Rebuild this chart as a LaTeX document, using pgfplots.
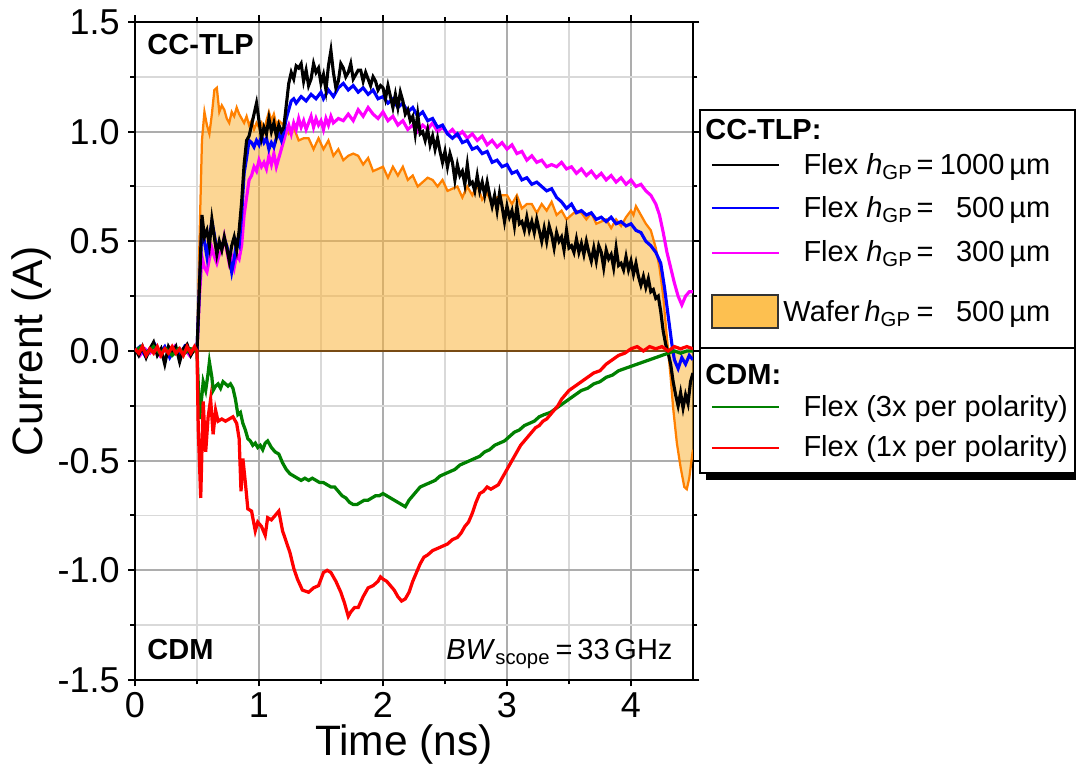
\documentclass[border=0pt]{standalone}
\usepackage{fontspec}
\setmainfont{Liberation Sans}
\usepackage{pgfplots}
\usepackage{pgfplotstable}
\pgfplotsset{compat=1.18}

\definecolor{waferfill}{RGB}{250,180,60}
\definecolor{waferline}{RGB}{255,128,0}
\definecolor{waferbase}{RGB}{120,75,20}
\definecolor{legfill}{RGB}{253,192,80}
\definecolor{cdmgreen}{RGB}{0,128,0}
\definecolor{cdmred}{RGB}{255,0,0}
\definecolor{flexblue}{RGB}{0,0,255}
\definecolor{flexmag}{RGB}{255,0,255}

\newcommand{\legfont}{\fontsize{11.6}{13}\selectfont}

% CC-TLP, wafer h_GP = 500 um
\pgfplotstableread{
x y
0 0.00
0.05 0.02
0.10 -0.01
0.15 0.01
0.20 -0.02
0.25 0.01
0.30 0.02
0.35 -0.01
0.40 0.01
0.45 -0.01
0.50 0.00
0.52 0.50
0.54 0.96
0.56 1.09
0.58 1.03
0.60 0.99
0.62 1.08
0.64 1.19
0.66 1.20
0.68 1.09
0.70 1.12
0.72 1.10
0.74 1.06
0.76 1.04
0.78 1.09
0.80 1.07
0.82 1.11
0.84 1.08
0.86 1.06
0.88 1.04
0.90 1.07
0.92 1.03
0.94 1.05
0.96 1.01
0.98 1.04
1.00 1.02
1.02 1.04
1.04 1.00
1.06 1.05
1.08 1.09
1.10 1.05
1.12 1.08
1.14 1.03
1.16 1.05
1.20 1.03
1.24 0.99
1.28 1.02
1.32 0.96
1.36 0.97
1.40 0.97
1.44 0.92
1.48 0.97
1.52 0.92
1.56 0.96
1.60 0.89
1.64 0.92
1.68 0.87
1.72 0.89
1.76 0.90
1.80 0.89
1.84 0.85
1.88 0.88
1.92 0.82
1.96 0.83
2.00 0.84
2.04 0.79
2.08 0.84
2.12 0.80
2.16 0.84
2.20 0.78
2.24 0.80
2.28 0.75
2.32 0.77
2.36 0.79
2.40 0.78
2.44 0.75
2.48 0.78
2.52 0.73
2.56 0.74
2.60 0.75
2.64 0.70
2.68 0.75
2.72 0.71
2.76 0.76
2.80 0.69
2.84 0.72
2.88 0.67
2.92 0.70
2.96 0.71
3.00 0.71
3.04 0.67
3.08 0.71
3.12 0.65
3.16 0.67
3.20 0.67
3.24 0.63
3.28 0.67
3.32 0.64
3.36 0.68
3.40 0.62
3.44 0.64
3.48 0.60
3.52 0.62
3.56 0.64
3.60 0.63
3.64 0.60
3.68 0.63
3.72 0.58
3.76 0.59
3.80 0.60
3.84 0.56
3.88 0.60
3.92 0.57
3.96 0.61
4.00 0.64
4.02 0.62
4.04 0.66
4.08 0.62
4.12 0.58
4.16 0.55
4.20 0.47
4.23 0.38
4.26 0.25
4.28 0.12
4.30 0.00
4.32 -0.12
4.34 -0.26
4.37 -0.42
4.40 -0.53
4.43 -0.62
4.45 -0.63
4.47 -0.58
4.49 -0.49
4.50 -0.45
}\wafer

% CC-TLP, flex h_GP = 1000 um
\pgfplotstableread{
x y
0 0.01
0.03 -0.02
0.06 0.02
0.09 -0.03
0.12 0.01
0.15 0.04
0.18 -0.02
0.21 0.01
0.24 -0.06
0.27 0.02
0.30 -0.01
0.33 0.02
0.36 -0.05
0.39 0.01
0.42 0.03
0.45 -0.02
0.48 0.01
0.50 0.00
0.52 0.30
0.54 0.62
0.56 0.52
0.58 0.55
0.60 0.48
0.62 0.60
0.64 0.52
0.66 0.44
0.68 0.50
0.70 0.46
0.72 0.52
0.74 0.47
0.76 0.41
0.78 0.48
0.80 0.52
0.82 0.46
0.84 0.55
0.86 0.68
0.88 0.85
0.90 0.96
0.92 0.98
0.94 1.03
0.96 1.08
0.98 1.13
1.00 1.05
1.02 0.97
1.04 1.02
1.06 0.99
1.08 1.06
1.10 1.00
1.12 1.04
1.14 0.98
1.16 1.03
1.18 1.00
1.20 1.02
1.22 1.12
1.24 1.22
1.26 1.27
1.28 1.24
1.30 1.30
1.32 1.29
1.34 1.31
1.36 1.23
1.38 1.28
1.40 1.21
1.42 1.24
1.44 1.31
1.46 1.27
1.48 1.29
1.50 1.22
1.52 1.26
1.54 1.19
1.56 1.30
1.58 1.37
1.60 1.27
1.62 1.20
1.64 1.23
1.66 1.31
1.68 1.29
1.70 1.25
1.72 1.27
1.74 1.31
1.76 1.24
1.78 1.26
1.80 1.28
1.82 1.28
1.84 1.23
1.86 1.27
1.88 1.24
1.90 1.21
1.92 1.25
1.94 1.23
1.96 1.19
1.98 1.21
2.00 1.20
2.02 1.15
2.04 1.21
2.06 1.16
2.08 1.11
2.10 1.17
2.12 1.11
2.14 1.18
2.16 1.14
2.18 1.08
2.20 1.10
2.22 1.05
2.24 1.07
2.26 0.99
2.28 1.08
2.30 0.99
2.32 1.00
2.34 0.96
2.36 1.01
2.38 0.94
2.40 0.98
2.42 0.92
2.44 0.97
2.46 0.91
2.48 0.86
2.50 0.91
2.52 0.84
2.54 0.90
2.56 0.86
2.58 0.78
2.60 0.85
2.62 0.80
2.64 0.82
2.66 0.76
2.68 0.85
2.70 0.76
2.72 0.77
2.74 0.73
2.76 0.80
2.78 0.73
2.80 0.77
2.82 0.71
2.84 0.77
2.86 0.71
2.88 0.66
2.90 0.71
2.92 0.64
2.94 0.72
2.96 0.66
2.98 0.59
3.00 0.66
3.02 0.61
3.04 0.64
3.06 0.57
3.08 0.66
3.10 0.58
3.12 0.59
3.14 0.55
3.16 0.61
3.18 0.55
3.20 0.59
3.22 0.54
3.24 0.60
3.26 0.55
3.28 0.50
3.30 0.56
3.32 0.50
3.34 0.57
3.36 0.53
3.38 0.47
3.40 0.54
3.42 0.50
3.44 0.52
3.46 0.46
3.48 0.55
3.50 0.47
3.52 0.48
3.54 0.45
3.56 0.51
3.58 0.45
3.60 0.49
3.62 0.44
3.64 0.50
3.66 0.45
3.68 0.41
3.70 0.47
3.72 0.41
3.74 0.48
3.76 0.45
3.78 0.38
3.80 0.46
3.82 0.42
3.84 0.44
3.86 0.38
3.88 0.47
3.90 0.39
3.92 0.40
3.94 0.37
3.96 0.43
3.98 0.37
4.00 0.41
4.02 0.35
4.04 0.40
4.06 0.34
4.08 0.30
4.10 0.34
4.12 0.29
4.14 0.33
4.16 0.27
4.18 0.28
4.20 0.24
4.22 0.25
4.24 0.18
4.26 0.09
4.28 0.03
4.30 -0.01
4.32 -0.06
4.34 -0.14
4.36 -0.20
4.38 -0.25
4.40 -0.19
4.42 -0.26
4.44 -0.20
4.46 -0.24
4.48 -0.14
4.50 -0.10
}\flexA

% CC-TLP, flex h_GP = 500 um
\pgfplotstableread{
x y
0 0.00
0.04 0.02
0.08 -0.02
0.12 0.01
0.16 0.03
0.20 -0.01
0.24 0.02
0.28 -0.03
0.32 0.01
0.36 -0.02
0.40 0.02
0.44 -0.01
0.48 0.01
0.50 0.00
0.52 0.30
0.54 0.56
0.56 0.50
0.58 0.43
0.60 0.52
0.62 0.59
0.64 0.53
0.66 0.46
0.68 0.49
0.70 0.47
0.72 0.51
0.74 0.48
0.76 0.43
0.78 0.36
0.80 0.42
0.82 0.50
0.84 0.48
0.86 0.62
0.88 0.81
0.90 0.88
0.92 0.96
0.94 0.95
0.96 0.93
0.98 0.96
1.00 0.94
1.02 0.98
1.04 0.95
1.06 0.97
1.08 0.92
1.10 0.95
1.12 0.93
1.14 0.97
1.16 0.99
1.18 0.96
1.20 1.00
1.22 1.06
1.24 1.10
1.26 1.14
1.28 1.15
1.30 1.13
1.34 1.16
1.38 1.14
1.42 1.17
1.46 1.15
1.50 1.18
1.52 1.15
1.56 1.19
1.60 1.16
1.64 1.20
1.68 1.22
1.72 1.19
1.76 1.21
1.80 1.18
1.84 1.20
1.88 1.17
1.92 1.19
1.96 1.15
2.00 1.16
2.04 1.13
2.08 1.15
2.12 1.11
2.16 1.13
2.20 1.09
2.24 1.11
2.28 1.07
2.32 1.09
2.36 1.05
2.40 1.06
2.44 1.02
2.48 1.03
2.52 0.99
2.56 0.97
2.60 0.99
2.64 0.95
2.68 0.96
2.72 0.92
2.76 0.93
2.80 0.90
2.84 0.91
2.88 0.86
2.92 0.87
2.96 0.84
3.00 0.85
3.04 0.81
3.08 0.82
3.12 0.78
3.16 0.79
3.20 0.76
3.24 0.77
3.28 0.75
3.32 0.73
3.36 0.74
3.40 0.70
3.44 0.68
3.48 0.65
3.52 0.67
3.56 0.63
3.60 0.64
3.64 0.62
3.68 0.63
3.72 0.60
3.76 0.61
3.80 0.59
3.84 0.61
3.88 0.58
3.92 0.59
3.96 0.57
4.00 0.58
4.04 0.55
4.08 0.54
4.12 0.50
4.16 0.48
4.20 0.45
4.24 0.40
4.27 0.29
4.30 0.16
4.33 0.03
4.35 -0.04
4.38 -0.08
4.41 -0.03
4.44 -0.06
4.47 -0.02
4.50 -0.04
}\flexB

% CC-TLP, flex h_GP = 300 um
\pgfplotstableread{
x y
0 0.01
0.04 -0.02
0.08 0.01
0.12 -0.01
0.16 0.02
0.20 -0.02
0.24 0.01
0.28 -0.01
0.32 0.02
0.36 -0.03
0.40 0.01
0.44 -0.02
0.48 0.01
0.50 0.00
0.52 0.25
0.54 0.43
0.56 0.38
0.58 0.36
0.60 0.42
0.62 0.47
0.64 0.43
0.66 0.40
0.68 0.44
0.70 0.46
0.72 0.52
0.74 0.46
0.76 0.40
0.78 0.43
0.80 0.38
0.82 0.44
0.84 0.42
0.86 0.48
0.88 0.62
0.90 0.70
0.92 0.78
0.94 0.80
0.96 0.84
0.98 0.82
1.00 0.87
1.02 0.84
1.04 0.86
1.06 0.83
1.08 0.89
1.10 0.85
1.12 0.90
1.14 0.84
1.16 0.88
1.18 0.92
1.20 0.96
1.22 1.00
1.24 1.03
1.26 0.99
1.28 1.04
1.30 1.01
1.32 1.06
1.34 1.02
1.36 1.05
1.38 1.01
1.40 1.04
1.42 1.07
1.44 1.02
1.46 1.06
1.48 1.03
1.50 1.05
1.52 1.01
1.54 1.06
1.56 1.03
1.58 1.07
1.60 1.04
1.64 1.06
1.68 1.05
1.72 1.08
1.76 1.05
1.80 1.10
1.84 1.07
1.88 1.11
1.92 1.08
1.96 1.06
2.00 1.09
2.04 1.05
2.08 1.07
2.12 1.03
2.16 1.05
2.20 1.01
2.24 1.03
2.28 1.00
2.32 1.03
2.36 1.01
2.40 1.04
2.44 1.00
2.48 1.02
2.52 0.99
2.56 1.01
2.60 0.98
2.64 1.00
2.68 0.97
2.72 0.99
2.76 0.96
2.80 0.98
2.84 0.94
2.88 0.96
2.92 0.93
2.96 0.95
3.00 0.92
3.04 0.94
3.08 0.90
3.12 0.91
3.16 0.87
3.20 0.89
3.24 0.86
3.28 0.87
3.32 0.84
3.36 0.85
3.40 0.84
3.44 0.86
3.48 0.83
3.52 0.84
3.56 0.81
3.60 0.83
3.64 0.80
3.68 0.82
3.72 0.79
3.76 0.81
3.80 0.78
3.84 0.80
3.88 0.77
3.92 0.79
3.96 0.76
4.00 0.78
4.04 0.75
4.08 0.76
4.12 0.73
4.16 0.71
4.20 0.67
4.23 0.62
4.26 0.54
4.29 0.45
4.32 0.38
4.35 0.31
4.38 0.25
4.41 0.21
4.44 0.25
4.47 0.27
4.50 0.27
}\flexC

% CDM, flex, 3x per polarity
\pgfplotstableread{
x y
0 0.00
0.05 0.02
0.10 -0.01
0.15 0.02
0.20 -0.01
0.25 0.01
0.30 -0.02
0.35 0.01
0.40 -0.01
0.45 0.01
0.50 0.00
0.51 -0.15
0.52 -0.31
0.54 -0.20
0.55 -0.14
0.57 -0.18
0.59 -0.10
0.60 -0.05
0.62 -0.12
0.63 -0.18
0.65 -0.16
0.67 -0.15
0.69 -0.17
0.71 -0.14
0.73 -0.15
0.75 -0.16
0.77 -0.15
0.79 -0.17
0.81 -0.22
0.83 -0.29
0.85 -0.28
0.87 -0.33
0.89 -0.36
0.91 -0.40
0.93 -0.41
0.95 -0.43
0.97 -0.42
0.99 -0.44
1.01 -0.43
1.03 -0.45
1.05 -0.42
1.07 -0.41
1.10 -0.44
1.13 -0.46
1.16 -0.47
1.19 -0.51
1.22 -0.54
1.25 -0.56
1.28 -0.57
1.31 -0.58
1.34 -0.59
1.37 -0.58
1.40 -0.59
1.43 -0.58
1.46 -0.59
1.49 -0.60
1.52 -0.60
1.55 -0.61
1.58 -0.62
1.61 -0.62
1.64 -0.64
1.67 -0.66
1.70 -0.67
1.73 -0.69
1.76 -0.70
1.79 -0.70
1.82 -0.69
1.85 -0.68
1.88 -0.68
1.91 -0.67
1.94 -0.66
1.97 -0.66
2.00 -0.65
2.03 -0.66
2.06 -0.67
2.09 -0.68
2.12 -0.69
2.15 -0.70
2.18 -0.71
2.21 -0.68
2.24 -0.66
2.27 -0.64
2.30 -0.62
2.34 -0.61
2.38 -0.60
2.42 -0.59
2.46 -0.57
2.50 -0.56
2.54 -0.55
2.58 -0.54
2.62 -0.52
2.66 -0.51
2.70 -0.50
2.74 -0.49
2.78 -0.48
2.82 -0.46
2.86 -0.45
2.90 -0.43
2.94 -0.42
2.98 -0.41
3.02 -0.39
3.06 -0.37
3.10 -0.36
3.14 -0.34
3.18 -0.33
3.22 -0.32
3.26 -0.30
3.30 -0.29
3.35 -0.28
3.40 -0.26
3.45 -0.24
3.50 -0.22
3.55 -0.20
3.60 -0.18
3.65 -0.17
3.70 -0.15
3.75 -0.14
3.80 -0.12
3.85 -0.11
3.90 -0.09
3.95 -0.08
4.00 -0.07
4.05 -0.06
4.10 -0.05
4.15 -0.04
4.20 -0.03
4.25 -0.02
4.30 -0.01
4.35 0.00
4.40 -0.01
4.45 0.00
4.50 0.00
}\cdmA

% CDM, flex, 1x per polarity
\pgfplotstableread{
x y
0 0.01
0.03 -0.01
0.06 0.02
0.09 -0.02
0.12 0.01
0.15 -0.01
0.18 0.02
0.21 -0.02
0.24 0.01
0.27 -0.01
0.30 0.02
0.33 -0.01
0.36 0.01
0.39 -0.02
0.42 0.02
0.45 -0.01
0.48 0.02
0.50 0.00
0.51 -0.35
0.53 -0.67
0.55 -0.23
0.57 -0.46
0.59 -0.30
0.61 -0.22
0.63 -0.38
0.65 -0.27
0.67 -0.32
0.70 -0.31
0.73 -0.32
0.76 -0.31
0.79 -0.30
0.82 -0.33
0.84 -0.40
0.855 -0.64
0.87 -0.49
0.89 -0.60
0.91 -0.72
0.94 -0.73
0.97 -0.82
0.99 -0.78
1.02 -0.80
1.05 -0.84
1.07 -0.76
1.10 -0.77
1.13 -0.75
1.16 -0.73
1.19 -0.82
1.22 -0.87
1.25 -0.92
1.28 -0.99
1.31 -1.04
1.35 -1.09
1.40 -1.10
1.44 -1.08
1.48 -1.07
1.52 -1.01
1.55 -1.00
1.58 -1.01
1.62 -1.05
1.66 -1.10
1.69 -1.15
1.72 -1.21
1.74 -1.19
1.77 -1.17
1.80 -1.17
1.84 -1.12
1.88 -1.08
1.92 -1.07
1.96 -1.05
1.98 -1.03
2.00 -1.04
2.03 -1.05
2.06 -1.07
2.09 -1.09
2.12 -1.12
2.15 -1.14
2.18 -1.13
2.21 -1.10
2.24 -1.05
2.27 -1.01
2.30 -0.97
2.33 -0.94
2.36 -0.93
2.40 -0.91
2.44 -0.90
2.48 -0.89
2.52 -0.88
2.56 -0.86
2.60 -0.85
2.63 -0.83
2.66 -0.80
2.69 -0.78
2.72 -0.74
2.75 -0.69
2.78 -0.65
2.81 -0.64
2.84 -0.62
2.87 -0.63
2.90 -0.62
2.93 -0.61
2.96 -0.58
2.99 -0.55
3.02 -0.52
3.05 -0.49
3.08 -0.46
3.11 -0.43
3.14 -0.41
3.17 -0.39
3.20 -0.37
3.23 -0.35
3.26 -0.34
3.29 -0.32
3.32 -0.31
3.35 -0.29
3.38 -0.27
3.41 -0.25
3.44 -0.22
3.47 -0.20
3.50 -0.18
3.55 -0.16
3.60 -0.14
3.65 -0.12
3.70 -0.10
3.75 -0.09
3.80 -0.06
3.85 -0.04
3.90 -0.02
3.95 -0.01
4.00 0.01
4.05 0.02
4.10 0.00
4.15 0.02
4.20 0.01
4.25 0.02
4.30 0.00
4.35 0.02
4.40 0.01
4.45 0.02
4.50 0.01
}\cdmB

\begin{document}
\begin{tikzpicture}
\begin{axis}[
    name=ax,
    scale only axis,
    width=223.2pt, height=263.2pt,
    xmin=0, xmax=4.5, ymin=-1.5, ymax=1.5,
    xtick={0,1,2,3,4}, xticklabels={0,1,2,3,4},
    minor xtick={0.5,1.5,2.5,3.5},
    ytick={-1.5,-1,-0.5,0,0.5,1,1.5},
    yticklabels={-1.5,-1.0,-0.5,0.0,0.5,1.0,1.5},
    minor ytick={-1.25,-0.75,-0.25,0.25,0.75,1.25},
    grid=both,
    major grid style={line width=0.7pt, black!32},
    minor grid style={line width=0.7pt, black!15},
    tick align=outside,
    major tick length=2.6pt, minor tick length=1.8pt,
    tick style={line width=0.8pt, black},
    axis line style={line width=1pt},
    tick label style={font=\fontsize{14.4}{16}\selectfont},
    xticklabel style={yshift=1pt},
    label style={font=\fontsize{17}{20}\selectfont},
    xlabel={Time (ns)}, ylabel={Current (A)},
    xlabel style={at={(axis description cs:0.482,-0.098)}, anchor=center},
    ylabel style={at={(axis description cs:-0.185,0.5)}, anchor=center},
]
\addplot[draw=none, fill=waferfill, fill opacity=0.55] table {\wafer} \closedcycle;
\addplot[waferbase, line width=0.8pt] coordinates {(0.5,0) (4.3,0)};
\addplot[waferline, line width=0.9pt] table {\wafer};
\addplot[flexmag, line width=1.25pt] table {\flexC};
\addplot[flexblue, line width=1.25pt] table {\flexB};
\addplot[black, line width=1.25pt] table {\flexA};
\addplot[cdmgreen, line width=1.3pt] table {\cdmA};
\addplot[cdmred, line width=1.3pt] table {\cdmB};
\end{axis}

% overlay texts and legend, in pixel units of the reference
\begin{scope}[shift={(ax.south west)}, xshift=-54pt, yshift=272pt, x=0.4pt, y=-0.4pt,
    every node/.style={inner sep=0pt, font=\legfont}]
  \node[anchor=base west, font=\legfont\bfseries] at (147,55) {CC-TLP};
  \node[anchor=base west, font=\legfont\bfseries] at (147,660) {CDM};
  \node[anchor=base east] at (673,660) {\textit{BW}\textsubscript{scope}\,=\,33\,GHz};

  \fill[black] (706,116) rectangle (1082,480);
  \draw[fill=white, line width=0.6pt] (700,110) rectangle (1075,473);
  \draw[line width=0.6pt] (700,348) -- (1075,348);

  \node[anchor=base west, font=\legfont\bfseries] at (705,140) {CC-TLP:};
  \draw[black, line width=0.6pt] (712,165) -- (779,165);
  \node[anchor=base west] at (803,175) {Flex \textit{h}\textsubscript{GP}};
  \node[anchor=base west] at (916,175) {=};
  \node[anchor=base east] at (1005,175) {1000};
  \node[anchor=base west] at (1009,175) {µm};

  \draw[flexblue, line width=0.6pt] (712,208) -- (779,208);
  \node[anchor=base west] at (803,218) {Flex \textit{h}\textsubscript{GP}};
  \node[anchor=base west] at (916,218) {=};
  \node[anchor=base east] at (1005,218) {500};
  \node[anchor=base west] at (1009,218) {µm};

  \draw[flexmag, line width=0.6pt] (712,253) -- (779,253);
  \node[anchor=base west] at (803,262) {Flex \textit{h}\textsubscript{GP}};
  \node[anchor=base west] at (916,262) {=};
  \node[anchor=base east] at (1005,262) {300};
  \node[anchor=base west] at (1009,262) {µm};

  \draw[fill=legfill, draw=black!80, line width=0.5pt] (712,295) rectangle (778,328);
  \node[anchor=base west] at (783,322) {Wafer\,\textit{h}\textsubscript{GP}};
  \node[anchor=base west] at (916,322) {=};
  \node[anchor=base east] at (1005,322) {500};
  \node[anchor=base west] at (1009,322) {µm};

  \node[anchor=base west, font=\legfont\bfseries] at (705,385) {CDM:};
  \draw[cdmgreen, line width=1pt] (712,407) -- (779,407);
  \node[anchor=base west] at (803,417) {Flex (3x per polarity)};
  \draw[cdmred, line width=1pt] (712,448) -- (779,448);
  \node[anchor=base west] at (803,457) {Flex (1x per polarity)};

  \pgfresetboundingbox
  \path[use as bounding box] (0,0) rectangle (1076,764);
\end{scope}
\end{tikzpicture}
\end{document}
